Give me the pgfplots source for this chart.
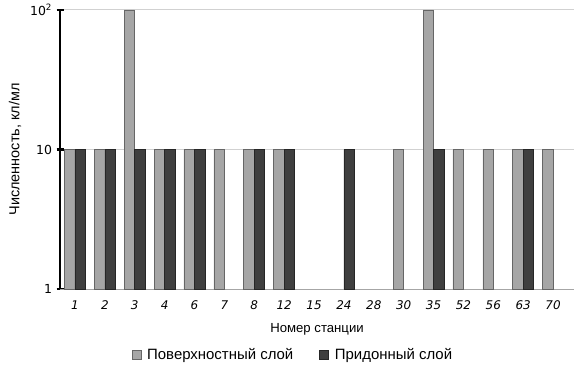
\documentclass[border=0pt]{standalone}
\usepackage{pgfplots}
\pgfplotsset{compat=1.18}
\usepackage{fontspec}
\setmainfont{Liberation Sans}
\newfontfamily\tickfont{DejaVu Sans}
\definecolor{lightbar}{HTML}{A6A6A6}
\definecolor{darkbar}{HTML}{3F3F3F}
\begin{document}
\begin{tikzpicture}[x=1bp,y=1bp]
\path[use as bounding box] (0,0) rectangle (577,377);
\begin{axis}[
  at={(60bp,88bp)}, anchor=south west,
  scale only axis, width=514bp, height=279bp,
  ymode=log, ymin=1, ymax=100,
  ytick={1,10,100}, yticklabels={1,10,10\textsuperscript{2}},
  xmin=-0.5, xmax=16.7,
  xtick={0,...,16},
  xticklabels={1,2,3,4,6,7,8,12,15,24,28,30,35,52,56,63,70},
  x tick style={draw=none},
  ybar=0pt, bar width=10.5bp,
  axis x line*=bottom, axis y line*=left,
  axis line style={-},
  x axis line style={draw=black!35, line width=0.8bp},
  y axis line style={draw=black, line width=2.2bp},
  y tick style={draw=black, line width=2.2bp},
  minor y tick style={draw=none},
  major tick length=7bp,
  tick align=center,
  ymajorgrids, y grid style={draw=black!18, line width=1bp},
  x tick label style={font=\tickfont\itshape\fontsize{12}{14}\selectfont, yshift=-5bp},
  y tick label style={font=\tickfont\fontsize{12.5}{14}\selectfont, xshift=-1bp},
  log ticks with fixed point,
  xlabel={Номер станции},
  xlabel style={font=\fontsize{13.2}{15}\selectfont, yshift=-7bp},
  ylabel={Численность, кл/мл},
  ylabel style={font=\fontsize{14.5}{16}\selectfont, yshift=2bp},
  legend columns=2,
  legend style={draw=none, at={(0.453,-0.237)}, anchor=center,
    font=\fontsize{15}{17}\selectfont,
    /tikz/every odd column/.append style={column sep=4bp},
    /tikz/every even column/.append style={column sep=24bp}},
  sqlegend/.style={legend image code/.code={\draw[##1] (0bp,-4.5bp) rectangle (9bp,4.5bp);}},
]
\addplot[fill=lightbar, draw=black!60, line width=0.6bp, sqlegend] coordinates {
 (0,10) (1,10) (2,100) (3,10) (4,10) (5,10) (6,10) (7,10)
 (11,10) (12,100) (13,10) (14,10) (15,10) (16,10)};
\addplot[fill=darkbar, draw=black!85, line width=0.6bp, sqlegend] coordinates {
 (0,10) (1,10) (2,10) (3,10) (4,10) (6,10) (7,10) (9,10) (12,10) (15,10)};
\legend{Поверхностный слой, Придонный слой}
\end{axis}
\end{tikzpicture}
\end{document}
